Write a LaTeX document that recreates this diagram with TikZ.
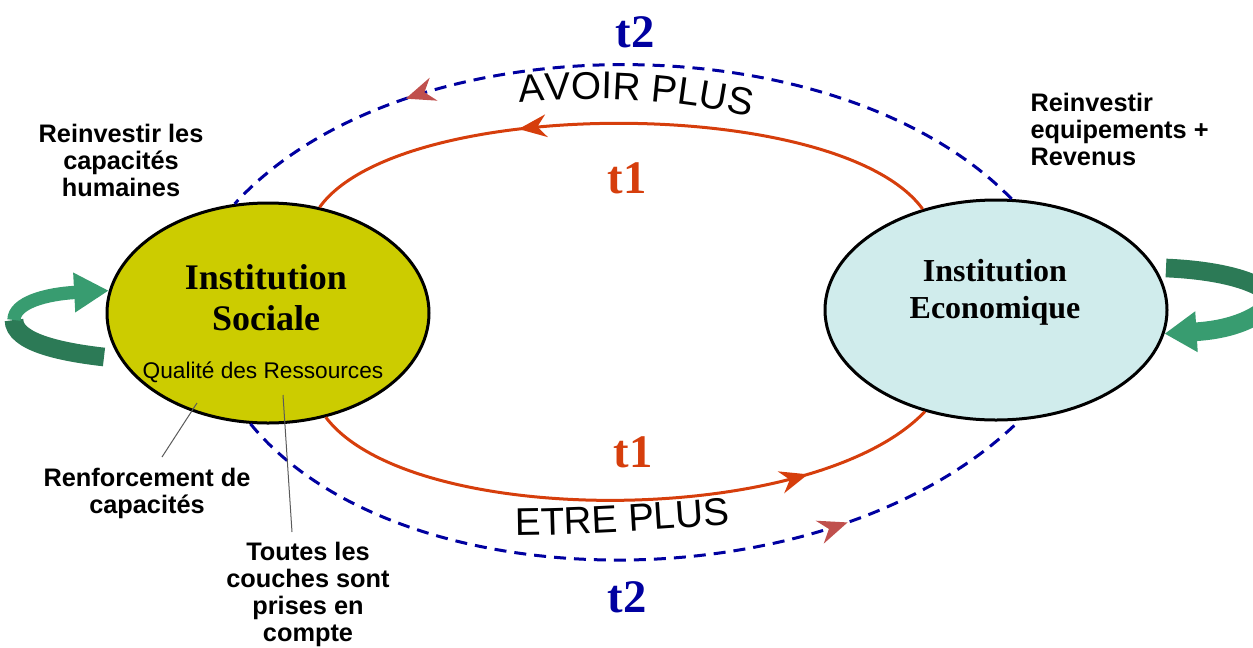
\documentclass[tikz,border=0pt]{standalone}
\usepackage{fontspec}
\setmainfont{Liberation Serif}
\setsansfont{Liberation Sans}
\usetikzlibrary{shapes.geometric,arrows.meta,decorations.markings,decorations.text}

\definecolor{socfill}{RGB}{204,204,0}
\definecolor{ecofill}{RGB}{208,236,236}
\definecolor{flowred}{RGB}{214,62,12}
\definecolor{flowblue}{RGB}{0,0,160}
\definecolor{tipred}{RGB}{192,80,77}
\definecolor{greendark}{RGB}{44,122,86}
\definecolor{greenlight}{RGB}{56,156,112}

\tikzset{every picture/.style={line width=0.75pt},
  inst/.style={ellipse, draw=black, line width=2.25pt, inner sep=0pt},
  instname/.style={align=center, inner sep=0pt},
  flowt1/.style={draw=flowred, line width=2.25pt},
  flowt2/.style={draw=flowblue, line width=2.25pt, dash pattern=on 9pt off 6pt},
  t1tip/.style={postaction={decorate}, decoration={markings, mark=at position #1 with {\arrow{Stealth[length=21pt,width=17pt,color=flowred]}}}},
  t2tip/.style={postaction={decorate}, decoration={markings, mark=at position #1 with {\arrow{Stealth[length=22pt,width=18pt,color=tipred]}}}},
  tlabel/.style={font=\bfseries\fontsize{35}{40}\selectfont, inner sep=0pt},
  arctext/.style={decorate, decoration={text along path, text align=center, text={|\sffamily\fontsize{29}{32}\selectfont|#1}}},
  note/.style={font=\sffamily\bfseries\fontsize{19}{20.25}\selectfont, align=center, inner sep=0pt},
  leader/.style={draw={rgb,255:red,90;green,90;blue,90}, line width=0.75pt}
}

\begin{document}
\begin{tikzpicture}[x=0.75pt,y=0.75pt,yscale=-1,xscale=1]
\useasboundingbox (0,0) rectangle (1253,647);
\clip (0,0) rectangle (1253,647);

% Institution Node
\node[inst, fill=socfill, minimum width=241.5pt, minimum height=165pt] (soc) at (268,313) {};
\node[instname, font=\bfseries\fontsize{27}{30.75}\selectfont] (socname) at (266,298) {Institution\\Sociale};
\node[font=\sffamily\fontsize{17}{19}\selectfont, inner sep=0pt] (socqual) at (263,372) {Qualité des Ressources};
% Institution Node
\node[inst, fill=ecofill, minimum width=256.5pt, minimum height=165pt] (eco) at (996,310) {};
\node[instname, font=\bfseries\fontsize{24}{27.75}\selectfont] (econame) at (995,292) {Institution\\Economique};

% Loop Arrow
\coordinate (socloopA) at (104,357);
\coordinate (socloopB) at (14,320);
\draw[greendark, line width=14pt] (socloopA) .. controls (60,352) and (14,342) .. (socloopB);
\draw[greenlight, line width=10pt, -{Triangle[length=26pt,width=28pt]}] (socloopB) .. controls (14,303) and (45,294) .. (soc.172);
% Loop Arrow
\coordinate (ecoloopA) at (1166,268);
\coordinate (ecoloopB) at (1275,300);
\draw[greendark, line width=14pt] (ecoloopA) .. controls (1215,270) and (1262,280) .. (ecoloopB);
\draw[greenlight, line width=14pt, -{Triangle[length=24pt,width=29pt]}] (ecoloopB) .. controls (1255,322) and (1225,330) .. (eco.-8);

% Connection
\draw[flowt1, t1tip=0.66] (eco.126) .. controls (840,95) and (400,95) .. (soc.64);
% Connection
\draw[flowt2, t2tip=0.76] (eco.82) .. controls (838,20) and (404,18) .. (soc.107);
% Connection
\draw[flowt1, t1tip=0.79] (soc.-61) .. controls (410,529) and (813,529) .. (eco.235);
% Connection
\draw[flowt2, t2tip=0.76] (soc.-99) .. controls (400,606) and (830,606) .. (eco.-78);

% Text Node
\node[tlabel, text=flowblue] (t2top) at (635,32) {t2};
\node[tlabel, text=flowred] (t1top) at (627,178) {t1};
\node[tlabel, text=flowred] (t1bot) at (633,452) {t1};
\node[tlabel, text=flowblue] (t2bot) at (627,597) {t2};
% Arc Text
\path[arctext={AVOIR PLUS}] (500,104.6) .. controls (590,93.4) and (680,98.6) .. (770,121.6);
\path[arctext={ETRE PLUS}] (495,535.5) .. controls (580,535.5) and (663,530) .. (750,522.5);
% Text Node
\node[note] (reinvsoc) at (121,160) {Reinvestir les\\capacités\\humaines};
\node[note, align=left, anchor=west] (reinveco) at (1030,129) {Reinvestir\\equipements +\\Revenus};
\node[note] (renf) at (147,493) {Renforcement de\\capacités};
\node[note] (couches) at (308,594) {Toutes les\\couches sont\\prises en\\compte};

% Leader
\coordinate (renfpin) at (197,403);
\coordinate (renfend) at (162,457);
\draw[leader] (renfpin) -- (renfend);
\coordinate (couchespin) at (283,395);
\coordinate (couchesend) at (292,532);
\draw[leader] (couchespin) -- (couchesend);

\end{tikzpicture}
\end{document}
